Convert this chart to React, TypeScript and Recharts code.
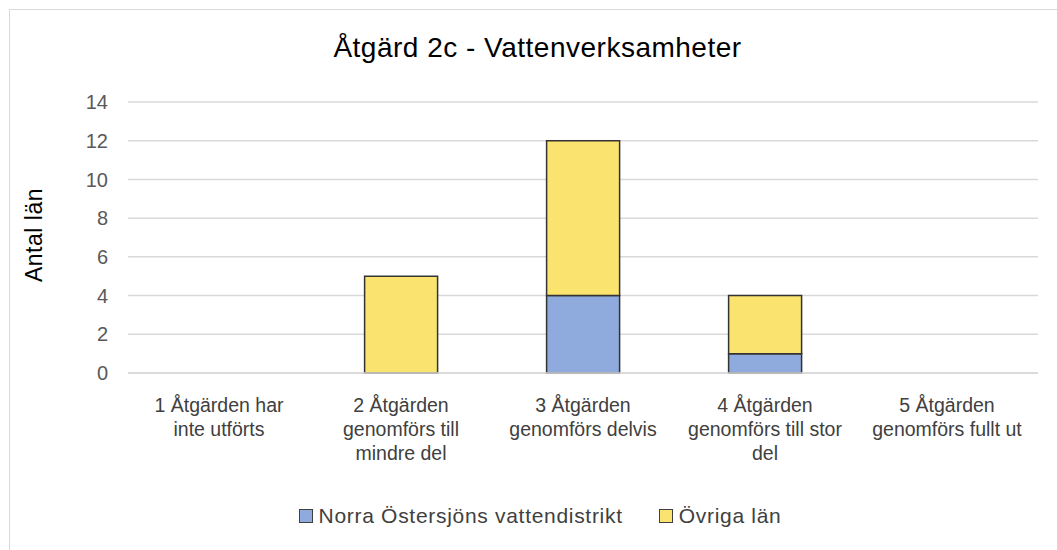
import React from "react";
import { BarChart, Bar, XAxis, YAxis, CartesianGrid, Legend } from "recharts";

const categories = [
  "1 Åtgärden har inte utförts",
  "2 Åtgärden genomförs till mindre del",
  "3 Åtgärden genomförs delvis",
  "4 Åtgärden genomförs till stor del",
  "5 Åtgärden genomförs fullt ut",
];
// how Excel wrapped each category label
const tickLines = [
  ["1 Åtgärden har", "inte utförts"],
  ["2 Åtgärden", "genomförs till", "mindre del"],
  ["3 Åtgärden", "genomförs delvis"],
  ["4 Åtgärden", "genomförs till stor", "del"],
  ["5 Åtgärden", "genomförs fullt ut"],
];
const norra = [0, 0, 4, 1, 0];
const ovriga = [0, 5, 8, 3, 0];
const yTicks = [0, 2, 4, 6, 8, 10, 12, 14];

const BLUE = "#8FAADC";
const YELLOW = "#FAE36F";
const FONT = "'Liberation Sans', Arial, sans-serif";

const data = categories.map((c, i) => ({
  cat: c,
  norra: norra[i],
  ovriga: ovriga[i],
}));

const CatTick = (props: any) => {
  const { x, y, index } = props;
  const lines = tickLines[index] ?? [];
  return (
    <text x={x} y={y} textAnchor="middle" fill="#404040" fontSize={19.5} fontFamily={FONT}>
      {lines.map((l, i) => (
        <tspan key={i} x={x} dy={i === 0 ? 31 : 24}>
          {l}
        </tspan>
      ))}
    </text>
  );
};

const LegendBox = () => (
  <div
    style={{
      display: "flex",
      justifyContent: "center",
      alignItems: "center",
      gap: 36,
      fontFamily: FONT,
      fontSize: 21,
      color: "#404040",
      paddingTop: 13,
      paddingRight: 26,
    }}
  >
    {[
      { label: "Norra Östersjöns vattendistrikt", color: BLUE },
      { label: "Övriga län", color: YELLOW },
    ].map((it) => (
      <div key={it.label} style={{ display: "flex", alignItems: "center", gap: 6 }}>
        <span
          style={{
            display: "inline-block",
            width: 12,
            height: 12,
            background: it.color,
            border: "1px solid #404040",
          }}
        />
        <span style={{ letterSpacing: 0.7 }}>{it.label}</span>
      </div>
    ))}
  </div>
);

export default function App() {
  return (
    <div style={{ position: "fixed", left: 0, top: 0, width: 1057, height: 550, background: "#fff", overflow: "hidden" }}>
      <div
        style={{
          position: "absolute",
          left: 9,
          top: 9,
          width: 1080,
          height: 580,
          border: "1px solid #d9d9d9",
        }}
      />
      <div
        style={{
          position: "absolute",
          left: 0,
          width: 1057,
          top: 32,
          textAlign: "center",
          fontFamily: FONT,
          fontSize: 28,
          letterSpacing: 0.5,
          color: "#000",
          paddingLeft: 18,
          boxSizing: "border-box",
        }}
      >
        Åtgärd 2c - Vattenverksamheter
      </div>
      <div
        style={{
          position: "absolute",
          left: 34,
          top: 235,
          transform: "translate(-50%, -50%) rotate(-90deg)",
          fontFamily: FONT,
          fontSize: 23,
          letterSpacing: 0.5,
          color: "#000",
          whiteSpace: "nowrap",
        }}
      >
        Antal län
      </div>
      <div style={{ position: "absolute", left: 0, top: 0 }}>
        <BarChart
          width={1057}
          height={550}
          data={data}
          margin={{ top: 102, right: 19, left: 68, bottom: 0 }}
          barCategoryGap="30%"
        >
          <CartesianGrid vertical={false} stroke="#d9d9d9" strokeWidth={1.5} />
          <XAxis
            dataKey="cat"
            tick={<CatTick />}
            tickLine={false}
            axisLine={{ stroke: "#d9d9d9", strokeWidth: 1.5 }}
            interval={0}
            height={118}
          />
          <YAxis
            domain={[0, 14]}
            ticks={yTicks}
            width={60}
            axisLine={false}
            tickLine={false}
            tick={{ fill: "#595959", fontSize: 20, fontFamily: FONT }}
            tickMargin={14}
          />
          <Legend verticalAlign="bottom" height={59} content={<LegendBox />} />
          <Bar dataKey="norra" stackId="a" fill={BLUE} stroke="#333" strokeWidth={1.5} isAnimationActive={false} />
          <Bar dataKey="ovriga" stackId="a" fill={YELLOW} stroke="#333" strokeWidth={1.5} isAnimationActive={false} />
        </BarChart>
      </div>
    </div>
  );
}
